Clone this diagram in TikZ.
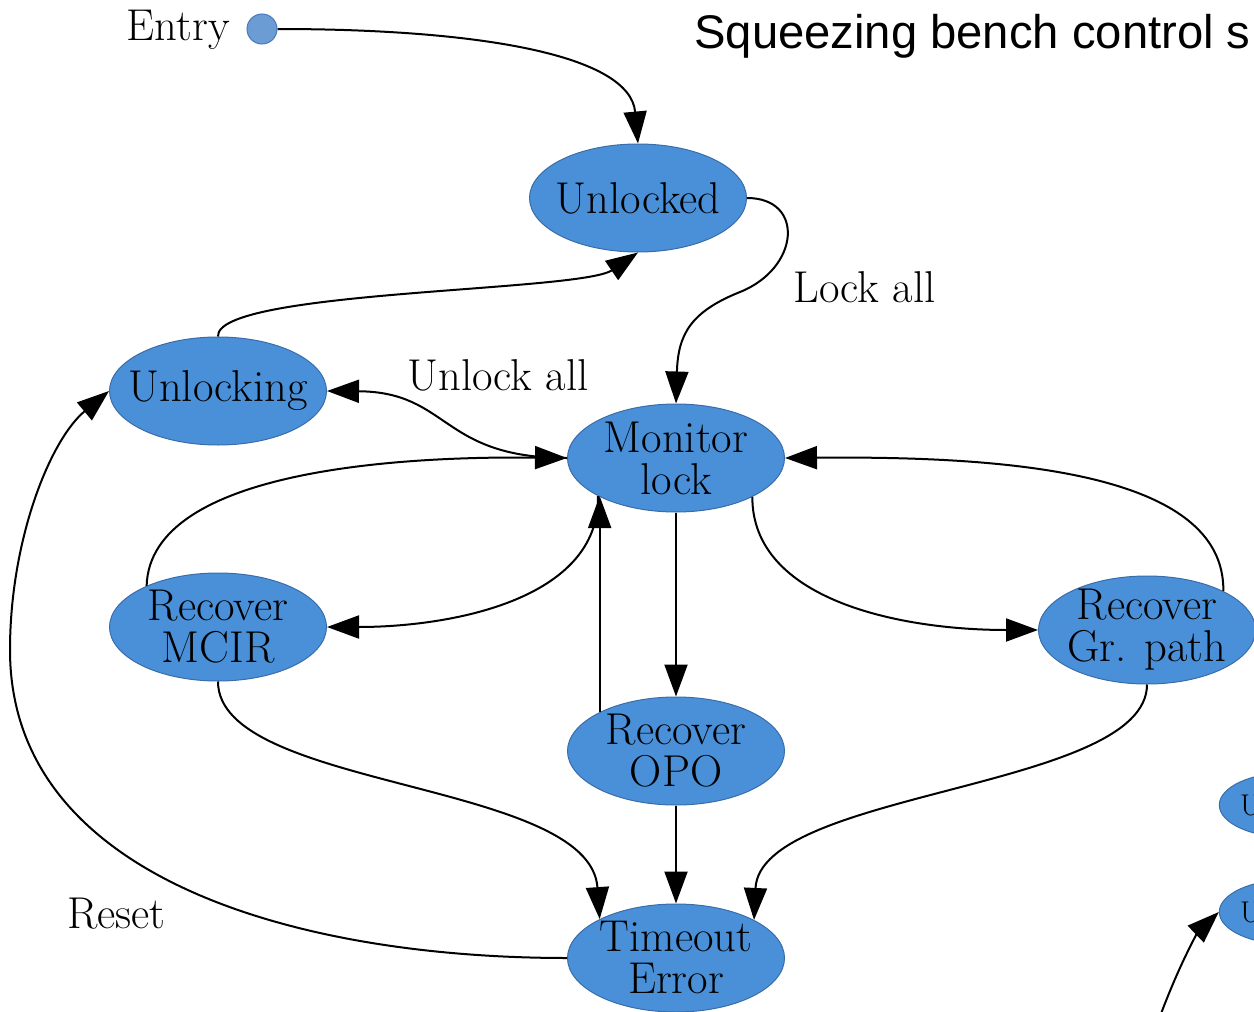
\documentclass[tikz,border=0pt]{standalone}
\usepackage{fontspec}
\newfontfamily\titlefont{Liberation Sans}
\usetikzlibrary{shapes.geometric,arrows.meta}
\definecolor{statefill}{RGB}{74,144,217}
\definecolor{stateline}{RGB}{58,108,168}
\definecolor{dotfill}{RGB}{108,156,212}
\definecolor{dotline}{RGB}{72,122,188}
\tikzstyle{state} = [ellipse, minimum width=108.5pt, minimum height=54pt, inner xsep=-10pt, inner ysep=-4pt, align=center, draw=stateline, line width=0.5pt, fill=statefill, font=\fontsize{22.3}{21}\selectfont]
\tikzstyle{smallstate} = [ellipse, minimum width=70pt, minimum height=32.5pt, inner sep=0pt, text width=50pt, align=left, draw=stateline, line width=0.5pt, fill=statefill, font=\fontsize{15}{15}\selectfont]
\tikzstyle{startdot} = [circle, minimum size=15pt, inner sep=0pt, draw=dotline, line width=0.5pt, fill=dotfill]
\tikzstyle{edgelabel} = [inner sep=0pt, font=\fontsize{22.3}{21}\selectfont]
\tikzstyle{arrow} = [line width=1pt, -{Triangle[length=16pt,width=11.5pt]}]

\begin{document}
\begin{tikzpicture}[x=0.5pt, y=-0.5pt]
\useasboundingbox (0,0) rectangle (1254,1012);
\clip (0,0) rectangle (1254,1012);

\node (title)[anchor=base west, inner sep=0pt, font=\titlefont\fontsize{23.6}{26}\selectfont] at (694,48) {Squeezing bench control s};

\node (entry)[startdot] at (262,29) {};
\node (entrylabel)[edgelabel, anchor=base east] at (230,40) {Entry};
\node (unlocked)[state] at (638,198) {Unlocked};
\node (unlocking)[state] at (218,391) {Unlocking};
\node (monitor)[state] at (676,458) {Monitor\\lock};
\node (mcir)[state] at (218,627) {Recover\\MCIR};
\node (opo)[state] at (676,751) {Recover\\OPO};
\node (grpath)[state] at (1147,630) {Recover\\Gr. path};
\node (timeout)[state] at (676,958) {Timeout\\Error};
\node (uone)[smallstate] at (1290,805) {U};
\node (utwo)[smallstate] at (1290,912) {U};
\coordinate (offpage) at (1155,1030);

\node (lockall)[edgelabel, anchor=base west] at (793,302) {Lock all};
\node (unlockall)[edgelabel, anchor=base west] at (407,390) {Unlock all};
\node (reset)[edgelabel, anchor=base west] at (67,928) {Reset};

\draw [arrow](entry) .. controls (480,29) and (630,55) .. (unlocked.north);
\draw [arrow](unlocked.east) .. controls (805,198) and (800,268) .. (740,292) .. controls (690,312) and (678,335) .. (monitor.north);
\draw [arrow](unlocking.north) .. controls (215,290) and (580,292) .. (unlocked.south);
\draw [arrow](monitor.west) .. controls (440,458) and (450,392) .. (unlocking.east);
\draw [arrow](mcir.150) .. controls (150,470) and (400,456) .. (monitor.west);
\draw [arrow](monitor.206.8) .. controls (600,600) and (450,627) .. (mcir.east);
\draw [arrow](opo.153.2) -- (opo.153.2 |- monitor.206.8);
\draw [arrow](monitor) -- (opo);
\draw [arrow](monitor.333.2) .. controls (752,600) and (900,630) .. (grpath.west);
\draw [arrow](grpath.27.2) .. controls (1225,470) and (1000,456) .. (monitor.east);
\draw [arrow](mcir.south) .. controls (218,790) and (590,780) .. (timeout.153.2);
\draw [arrow](opo) -- (timeout);
\draw [arrow](grpath.south) .. controls (1147,790) and (760,790) .. (timeout.26.8);
\draw [arrow](timeout.west) .. controls (300,958) and (10,880) .. (10,650) .. controls (10,540) and (50,440) .. (unlocking.west);
\draw [arrow](offpage) .. controls (1180,960) and (1200,930) .. (utwo.west);
\end{tikzpicture}
\end{document}
